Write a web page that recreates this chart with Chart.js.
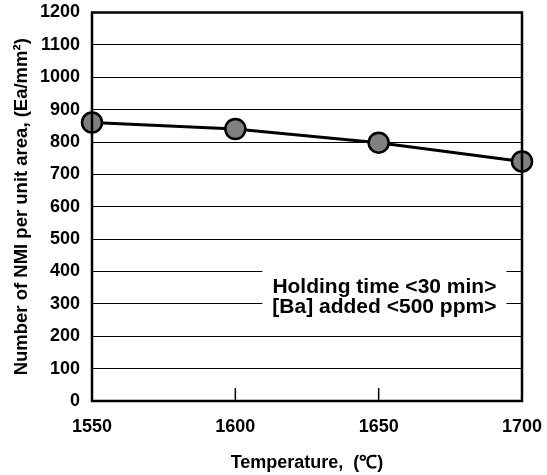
<!DOCTYPE html>
<html>
<head>
<meta charset="utf-8">
<script src="https://cdn.jsdelivr.net/npm/chart.js@4.4.1/dist/chart.umd.min.js"></script>
<style>
  html, body { margin: 0; padding: 0; background: #fff; }
  #wrap { width: 547px; height: 475px; }
</style>
</head>
<body>
<div id="wrap"><canvas id="nmiChart"></canvas></div>
<script>
// holding temperature (deg C) and inclusion count per unit area
const temperatures = [1550, 1600, 1650, 1700];
const nmiCounts = [860, 840, 798, 740];
const xTicks = [1550, 1600, 1650, 1700];
const yTicks = [0, 100, 200, 300, 400, 500, 600, 700, 800, 900, 1000, 1100, 1200];
const noteLines = ['Holding time <30 min>', '[Ba] added <500 ppm>'];

const FONT = 'Arial, "Liberation Sans", sans-serif';

// frame around the plot + short inner tick marks on the x axis
const framePlugin = {
    id: 'frame',
    afterDraw(chart) {
        const { ctx, chartArea: a, scales } = chart;
        ctx.save();
        ctx.strokeStyle = '#000';
        ctx.lineWidth = 1.5;
        xTicks.slice(1, -1).forEach(t => {
            const x = scales.x.getPixelForValue(t);
            ctx.beginPath();
            ctx.moveTo(x, a.bottom);
            ctx.lineTo(x, a.bottom - 13);
            ctx.stroke();
        });
        ctx.lineWidth = 2.5;
        ctx.strokeRect(a.left, a.top, a.right - a.left, a.bottom - a.top);
        ctx.restore();
    }
};

// condition note with a white box behind it
const notePlugin = {
    id: 'note',
    beforeDatasetsDraw(chart, args, opts) {
        const { ctx, scales } = chart;
        const cx = scales.x.getPixelForValue(opts.x);
        const cy = scales.y.getPixelForValue(opts.y);
        ctx.save();
        ctx.font = 'bold 21px ' + FONT;
        const w = Math.max(...noteLines.map(s => ctx.measureText(s).width));
        ctx.fillStyle = '#fff';
        ctx.fillRect(cx - w / 2 - 10, cy - 30, w + 20, 50);
        ctx.fillStyle = '#000';
        ctx.textAlign = 'center';
        ctx.textBaseline = 'middle';
        noteLines.forEach((s, i) => ctx.fillText(s, cx, cy - 10 + i * 20));
        ctx.restore();
    }
};

new Chart(document.getElementById('nmiChart'), {
    type: 'line',
    data: {
        datasets: [{
            data: temperatures.map((t, i) => ({ x: t, y: nmiCounts[i] })),
            borderColor: '#000',
            borderWidth: 3,
            pointRadius: 10,
            pointBorderWidth: 2.5,
            pointBackgroundColor: '#808080',
            pointBorderColor: '#000',
            tension: 0,
            clip: false
        }]
    },
    options: {
        responsive: true,
        maintainAspectRatio: false,
        animation: false,
        layout: { padding: { left: 0, top: 12.5, right: 25, bottom: 0 } },
        plugins: {
            legend: { display: false },
            tooltip: { enabled: false },
            note: { x: 1652, y: 321 }
        },
        scales: {
            x: {
                type: 'linear',
                min: 1550,
                max: 1700,
                afterBuildTicks: s => { s.ticks = xTicks.map(v => ({ value: v })); },
                afterFit: s => {
                    s.height = 74;
                    s.paddingLeft = 0;
                    s.paddingRight = 0;
                },
                grid: { display: false, drawTicks: false },
                border: { display: false },
                ticks: {
                    color: '#000',
                    padding: 15,
                    callback: v => String(v),
                    font: { family: FONT, size: 18, weight: 'bold' }
                },
                title: {
                    display: true,
                    text: 'Temperature,  (\u2103)',
                    color: '#000',
                    padding: { top: 0, bottom: 1 },
                    font: { family: FONT, size: 18, weight: 'bold' }
                }
            },
            y: {
                min: 0,
                max: 1200,
                afterBuildTicks: s => { s.ticks = yTicks.map(v => ({ value: v })); },
                afterFit: s => {
                    s.width = 92;
                    s.paddingTop = 0;
                    s.paddingBottom = 0;
                },
                grid: { color: '#000', lineWidth: 1, drawTicks: false },
                border: { display: false },
                ticks: {
                    color: '#000',
                    padding: 12,
                    callback: v => String(v),
                    font: { family: FONT, size: 18, weight: 'bold' }
                },
                title: {
                    display: true,
                    text: 'Number of NMI per unit area, (Ea/mm\u00b2)',
                    color: '#000',
                    padding: { top: 11, bottom: 0 },
                    font: { family: FONT, size: 18.5, weight: 'bold' }
                }
            }
        }
    },
    plugins: [framePlugin, notePlugin]
});
</script>
</body>
</html>
